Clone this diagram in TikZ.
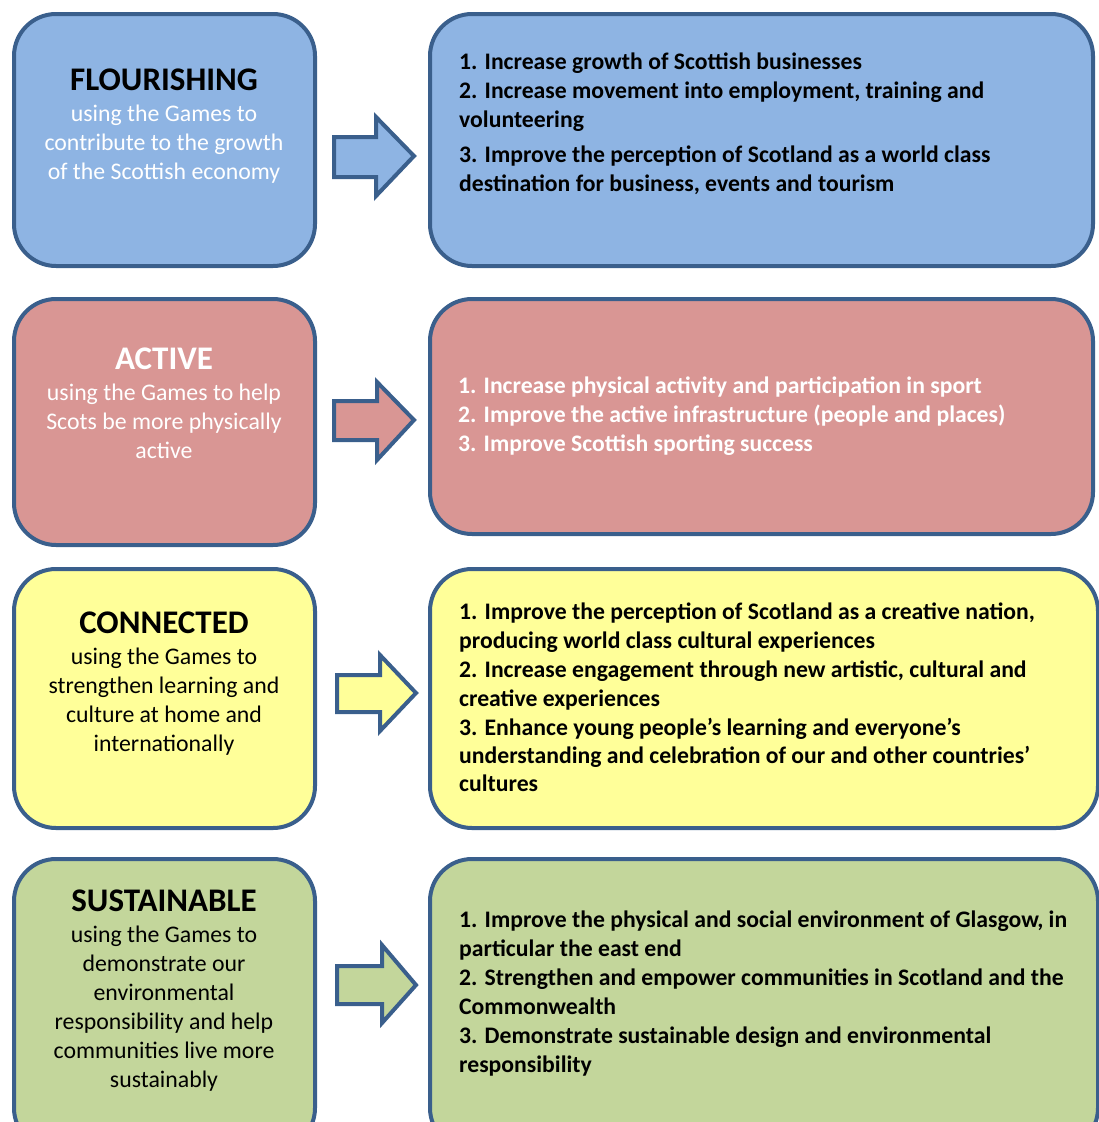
\documentclass[tikz,border=0pt]{standalone}
\usepackage{fontspec}
\setmainfont{Carlito}
\definecolor{bord}{HTML}{3A5F8C}
\definecolor{fblue}{HTML}{8EB4E3}
\definecolor{fred}{HTML}{D99694}
\definecolor{fyel}{HTML}{FFFF99}
\definecolor{fgrn}{HTML}{C3D69B}
\begin{document}
\begin{tikzpicture}[x=1pt,y=-1pt,
  boxstyle/.style={draw=bord, line width=4pt, rounded corners=42pt},
  arrowstyle/.style={draw=bord, line width=4pt, line join=miter},
  titletext/.style={anchor=base, inner sep=0pt, font=\fontsize{33}{36}\selectfont\bfseries},
  subtext/.style={anchor=base, inner sep=0pt, font=\fontsize{23.8}{29}\selectfont},
  itemtext/.style={anchor=base west, inner sep=0pt, font=\fontsize{23.7}{29}\selectfont\bfseries}]
\useasboundingbox (0,0) rectangle (1099,1122);
\clip (0,0) rectangle (1099,1122);
% boxes
\draw[boxstyle, fill=fblue] (14,14) rectangle (315,266);
\draw[boxstyle, fill=fblue] (430,14) rectangle (1093,266);
\draw[boxstyle, fill=fred] (14,299) rectangle (315,545);
\draw[boxstyle, fill=fred] (430,299) rectangle (1093,534);
\draw[boxstyle, fill=fyel] (14,569) rectangle (315,828);
\draw[boxstyle, fill=fyel] (430,569) rectangle (1098,828);
\draw[boxstyle, fill=fgrn] (14,859) rectangle (315,1150);
\draw[boxstyle, fill=fgrn] (430,859) rectangle (1098,1150);
% arrows
\draw[arrowstyle, fill=fblue] (334,137) -- (376,137) -- (376,117) -- (414,156) -- (376,196) -- (376,177) -- (334,177) -- cycle;
\draw[arrowstyle, fill=fred] (334,401) -- (377,401) -- (377,382) -- (414,420) -- (377,460) -- (377,440) -- (334,440) -- cycle;
\draw[arrowstyle, fill=fyel] (337,675) -- (380,675) -- (380,655) -- (416,693) -- (380,731) -- (380,712) -- (337,712) -- cycle;
\draw[arrowstyle, fill=fgrn] (337,966) -- (382,966) -- (382,945) -- (416,985) -- (382,1023) -- (382,1004) -- (337,1004) -- cycle;
% left texts
\node[titletext, text=black] (t1) at (164,90) {FLOURISHING};
\foreach \y/\t [count=\i] in {121/{using the Games to}, 150/{contribute to the growth}, 179/{of the Scottish economy}}
  \node[subtext, text=white] (s1-\i) at (164,\y) {\t};
\node[titletext, text=white] (t2) at (164,369) {ACTIVE};
\foreach \y/\t [count=\i] in {400/{using the Games to help}, 429/{Scots be more physically}, 458/{active}}
  \node[subtext, text=white] (s2-\i) at (164,\y) {\t};
\node[titletext, text=black] (t3) at (164,633) {CONNECTED};
\foreach \y/\t [count=\i] in {664/{using the Games to}, 693/{strengthen learning and}, 722/{culture at home and}, 751/{internationally}}
  \node[subtext, text=black] (s3-\i) at (164,\y) {\t};
\node[titletext, text=black] (t4) at (164,911) {SUSTAINABLE};
\foreach \y/\t [count=\i] in {942/{using the Games to}, 971/{demonstrate our}, 1000/{environmental}, 1029/{responsibility and help}, 1058/{communities live more}, 1087/{sustainably}}
  \node[subtext, text=black] (s4-\i) at (164,\y) {\t};
% right texts
\foreach \y/\t [count=\i] in {69/{1. Increase growth of Scottish businesses}, 98/{2. Increase movement into employment, training and}, 127/{volunteering}, 162/{3. Improve the perception of Scotland as a world class}, 191/{destination for business, events and tourism}}
  \node[itemtext, text=black] (r1-\i) at (459,\y) {\t};
\foreach \y/\t [count=\i] in {393/{1. Increase physical activity and participation in sport}, 422/{2. Improve the active infrastructure (people and places)}, 451/{3. Improve Scottish sporting success}}
  \node[itemtext, text=white] (r2-\i) at (458,\y) {\t};
\foreach \y/\t [count=\i] in {619/{1. Improve the perception of Scotland as a creative nation,}, 648/{producing world class cultural experiences}, 677/{2. Increase engagement through new artistic, cultural and}, 706/{creative experiences}, 735/{3. Enhance young people’s learning and everyone’s}, 763/{understanding and celebration of our and other countries’}, 791/{cultures}}
  \node[itemtext, text=black] (r3-\i) at (459,\y) {\t};
\foreach \y/\t [count=\i] in {927/{1. Improve the physical and social environment of Glasgow, in}, 956/{particular the east end}, 985/{2. Strengthen and empower communities in Scotland and the}, 1014/{Commonwealth}, 1043/{3. Demonstrate sustainable design and environmental}, 1072/{responsibility}}
  \node[itemtext, text=black] (r4-\i) at (459,\y) {\t};
\end{tikzpicture}
\end{document}
